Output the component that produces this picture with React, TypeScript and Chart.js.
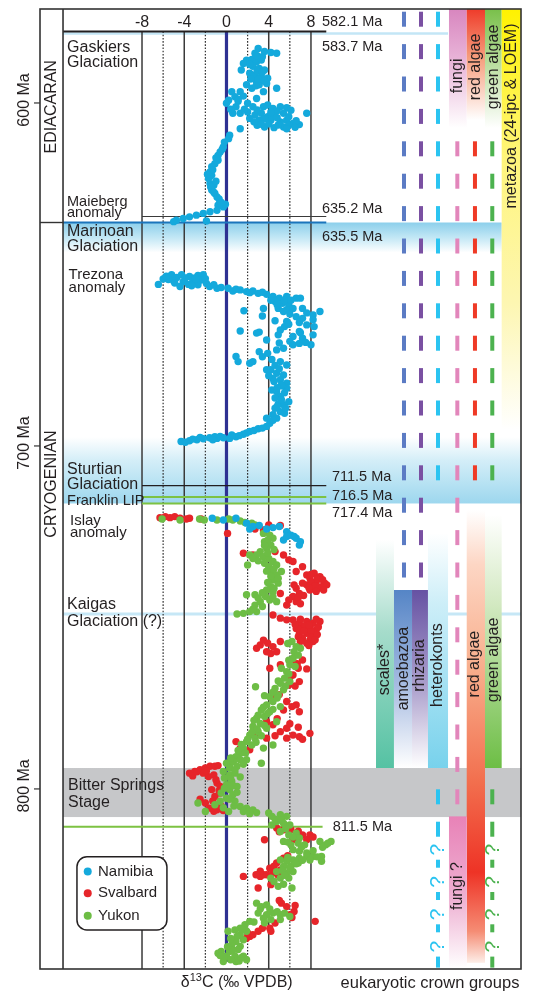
import React, { useEffect, useRef } from 'react';
import { Chart, registerables } from 'chart.js';

Chart.register(...registerables);

const FONT = '"Liberation Sans", Arial, Helvetica, sans-serif';
const INK = '#231f20';

// ---------------- data: [δ13C (‰ VPDB), age (Ma)] ----------------
const namibia: [number, number][] = [
  [3.0,584.1],[2.7,585.5],[3.6,585.0],[4.2,585.3],[4.75,585.5],[1.9,587.5],[2.4,587.3],[2.85,588.0],[3.3,587.5],[1.6,588.5],
  [2.5,589.3],[3.1,589.9],[3.6,590.4],[1.4,590.4],[2.2,591.3],[2.7,591.8],[3.3,592.3],[3.9,592.8],[2.85,593.8],[1.9,594.7],
  [2.4,595.7],[3.1,594.7],[3.8,594.3],[4.75,595.7],[3.5,596.7],[0.5,596.7],[1.3,596.7],[0.8,598.2],[0.2,599.2],[2.85,598.7],
  [2.0,600.1],[0.0,600.1],[0.9,601.1],[2.5,601.1],[3.5,601.1],[3.9,600.6],[4.4,601.6],[5.1,601.1],[5.7,601.4],[6.1,602.1],
  [0.6,603.0],[1.3,603.0],[2.0,602.6],[2.7,603.5],[3.3,603.0],[3.9,604.0],[4.5,603.5],[5.4,603.0],[7.6,603.0],[2.2,604.5],
  [3.1,605.0],[4.2,605.0],[5.1,605.5],[5.7,605.0],[6.3,606.0],[6.9,606.3],[2.9,606.5],[3.6,607.0],[4.5,607.2],[5.4,607.0],
  [5.9,606.5],[5.7,607.5],[1.3,607.5],[0.3,609.4],[0.2,610.4],[-0.2,611.4],[-0.3,612.8],[-0.6,614.3],[-0.8,615.3],[-0.8,616.7],
  [-1.1,617.7],[-1.4,618.6],[-1.56,620.1],[-1.4,621.1],[-1.7,622.0],[-1.56,623.5],[-1.2,624.0],[-1.4,625.4],[-1.1,626.4],[-0.9,627.4],
  [-0.6,628.8],[-0.8,629.8],[-0.3,630.3],[-0.1,629.5],[-0.9,631.3],[-1.56,631.7],[-2.2,632.2],[-2.85,632.7],[-3.5,633.2],[-4.1,633.7],
  [-4.75,634.2],[-5.0,634.6],[-1.9,634.4],[-0.4,613.5],[-1.0,616.0],[-1.3,619.5],[-1.6,621.5],[-1.5,624.5],[-1.2,626.0],[-0.7,628.0],
  [-1.8,620.8],[-1.0,622.8],[-0.5,629.0],
  [2.9,586.2],[3.4,586.5],[2.2,588.8],[2.9,590.6],[3.4,591.0],[2.5,592.5],[3.0,593.1],[2.3,593.0],[3.6,593.6],[2.8,595.0],
  [1.6,598.0],[1.1,599.5],[1.7,601.8],[2.9,602.0],[4.8,602.3],[4.2,602.7],[3.6,604.6],[4.8,604.3],[5.9,604.0],[6.6,605.2],
  [2.6,605.5],[3.3,606.2],[4.0,606.1],[4.9,606.4],[6.5,607.1],[1.1,599.0],[0.4,601.8],
  [-6.45,652.9],[-6.0,651.3],[-5.2,650.1],[-4.7,650.9],[-5.0,651.9],[-4.25,650.1],[-4.1,652.1],[-3.5,650.6],[-3.2,652.1],[-2.7,650.3],
  [-2.2,650.1],[-2.4,651.6],[-4.4,653.5],[-3.6,652.9],[-2.7,653.0],[-1.9,652.6],[-1.6,653.5],[-0.9,654.0],[-0.5,653.8],[0.15,654.0],
  [0.6,654.8],[1.3,654.5],[1.9,655.0],[2.5,654.8],[3.0,655.5],[3.8,655.8],[4.4,656.4],[5.0,656.9],[5.7,656.4],[4.6,657.9],
  [5.3,658.4],[5.9,658.9],[6.6,656.9],[7.0,656.9],[4.9,659.9],[5.7,660.3],[6.3,659.9],[7.2,659.9],[8.85,660.8],[6.6,662.3],
  [7.2,662.8],[8.2,661.8],[8.2,663.2],[5.7,663.7],[4.6,663.5],[8.3,665.2],[5.5,665.2],[7.6,664.7],[1.65,660.6],[3.5,659.9],
  [3.4,662.1],[5.1,666.2],[6.9,666.6],[8.2,667.6],[1.3,666.5],[2.85,667.1],[3.1,666.8],[3.8,669.1],[4.9,667.6],[6.3,668.1],
  [7.2,668.6],[6.3,670.5],[8.0,670.5],[6.9,670.1],[5.4,671.5],[4.75,672.0],[3.1,672.5],[3.9,673.0],[3.4,674.0],[0.9,673.9],
  [1.1,675.4],[2.2,675.9],[2.5,675.4],[5.1,675.4],[5.7,676.4],[3.8,677.8],[4.2,677.8],[4.75,678.8],[5.4,679.3],[4.4,680.3],
  [5.1,680.7],[5.7,681.7],[4.3,683.7],[5.7,683.2],[4.75,684.1],[5.1,685.6],[5.9,687.1],[5.4,688.0],[4.6,689.0],[5.1,690.0],
  [5.5,690.5],[4.4,690.9],[3.8,691.9],[4.75,691.9],[4.1,693.4],[3.8,694.3],[3.0,695.0],[2.2,695.8],[1.6,696.6],[0.9,697.3],
  [0.3,697.8],[-0.3,697.6],[-0.9,697.8],[-1.6,697.6],[-2.2,697.9],[-2.8,698.2],[-3.5,698.5],[-4.3,698.7],[-1.1,697.3],[0.5,696.8],
  [4.6,686.0],[5.3,682.5],[4.9,687.8],[-3.0,651.0],[-5.5,651.5],
  [-5.7,650.5],[-4.9,652.5],[-3.9,651.0],[-2.9,651.4],[-2.0,651.2],[-3.3,653.3],[-1.2,653.0],[0.9,654.3],[2.2,655.3],[3.4,655.2],
  [4.2,657.5],[4.8,658.8],[5.5,657.6],[6.1,657.5],[5.4,660.8],[6.0,661.5],[7.6,661.2],[6.9,664.0],[5.9,664.5],[7.0,667.0],
  [6.0,669.5],[7.5,669.8],[5.0,670.0],[4.3,674.8],[4.6,676.5],[5.0,677.5],[4.0,679.5],[4.5,681.2],[5.2,682.3],[4.8,683.0],
  [5.5,684.5],[5.2,686.5],[4.8,688.5],[5.6,689.0],[4.4,692.5],[3.4,694.8],[2.6,695.5],[1.9,696.2],[1.2,697.0],[-0.6,697.2],
  [-1.3,698.2],[-2.5,697.5],[-3.2,698.0],[-3.9,698.9],
  [-1.35,721.1],[-0.3,721.6],[0.9,721.1],[1.9,722.5],[2.5,723.5],[3.1,723.2],[3.8,724.2],[4.4,723.8],[5.0,723.5],[2.2,724.2],
  [5.7,725.0],[6.1,726.0],[6.6,726.9],[7.0,727.9],[6.9,728.9],[5.4,727.4],[5.7,726.4],[6.4,726.4],
];

const svalbard: [number, number][] = [
  [-6.3,720.9],[-5.8,720.6],[-5.35,720.9],[-4.9,720.6],[-4.4,721.1],[-3.8,721.3],[-3.5,721.1],[-2.4,721.3],[0.1,725.5],
  [2.7,724.2],[3.5,724.5],[4.0,723.0],[5.1,723.2],
  [1.6,731.3],[2.5,731.8],[5.4,731.8],[4.6,730.8],[5.9,733.2],[6.3,733.7],[7.2,735.2],[6.6,736.6],
  [7.6,737.6],[7.9,738.6],[8.3,737.1],[8.85,738.1],[9.3,740.0],[8.5,739.6],[8.2,741.0],[7.9,742.0],[7.6,740.5],[9.0,741.0],
  [8.7,741.5],[8.0,739.6],[7.2,740.0],[6.6,741.5],[6.9,743.0],[6.3,743.9],[5.9,744.9],[6.6,745.4],[5.7,746.4],[5.1,743.0],[6.4,740.5],
  [4.4,749.3],[5.1,750.2],[5.7,750.7],[6.3,750.7],
  [6.9,751.7],[7.6,751.2],[8.2,751.7],[8.85,751.2],[7.2,753.2],[7.9,753.2],[8.5,753.6],[6.9,754.6],[7.6,754.6],[8.2,755.1],
  [7.2,756.1],[7.9,756.6],[6.8,755.6],[7.6,757.5],[8.2,757.0],[6.6,753.2],[7.4,752.5],[8.0,754.0],
  [2.85,759.0],[3.2,758.0],[3.8,760.0],[3.5,756.6],[4.4,758.5],[5.1,757.0],[4.75,760.0],
  [4.1,764.8],[5.1,763.8],[6.3,762.9],[7.2,762.4],[6.8,764.8],[6.3,766.8],[6.9,768.7],[5.9,769.7],
  [4.4,773.6],[5.7,774.5],[6.6,775.5],[5.4,777.0],[6.9,777.5],
  [3.8,780.4],[4.4,781.3],[5.1,783.3],[5.7,782.3],[6.3,784.3],[6.9,784.8],[7.9,783.8],[5.7,785.2],
  [0.9,786.2],[1.3,788.1],[2.2,788.6],[3.8,785.2],[2.85,784.3],
  [-3.5,795.4],[-3.0,794.9],[-2.5,794.4],[-2.0,793.9],[-1.56,793.4],[-1.1,793.4],[-0.8,793.2],[-2.2,795.4],[-1.7,796.4],[-3.2,796.2],
  [-1.2,795.9],[-0.9,798.3],[-1.4,800.2],[-0.6,801.2],[-1.1,802.2],[-2.0,804.1],[-1.6,805.6],[-0.9,806.1],[-0.3,806.3],[-0.6,799.3],
  [3.6,814.8],[4.75,811.4],[5.4,811.9],[6.1,811.9],[7.2,813.4],[7.9,813.4],[7.6,814.8],[6.3,814.8],
  [5.4,820.2],[4.75,821.6],[4.1,823.1],[3.5,825.0],[3.8,825.0],[4.4,824.5],[5.1,823.6],[3.2,825.5],[1.6,825.5],[3.0,828.9],[4.2,827.9],
  [5.2,833.3],[5.7,834.3],[6.4,835.7],[6.0,836.7],[8.4,838.6],[4.6,839.1],[4.1,840.6],[4.2,841.5],[3.4,840.6],[2.2,843.0],
  [2.5,842.5],[1.9,843.5],
  [8.0,737.5],[8.6,738.8],[9.1,739.0],[9.5,740.5],[8.4,740.8],[7.8,741.3],[9.2,742.0],[8.5,742.4],[7.3,743.6],[6.8,744.2],
  [7.0,746.0],[7.0,750.5],[8.5,750.5],[7.8,752.2],[8.7,752.8],[6.9,753.8],[7.3,754.0],[8.0,755.8],[8.6,755.0],[7.0,757.0],
  [8.4,756.5],[7.8,758.2],[6.5,752.0],[3.9,757.5],[4.2,760.5],[6.7,763.5],[7.6,765.0],[6.0,767.5],[6.5,770.0],[5.0,772.5],
  [6.2,776.0],[4.8,779.5],[6.0,781.0],[6.8,782.0],[4.6,784.5],[7.2,785.5],[-2.8,795.0],[-1.9,794.8],[-1.0,797.3],[-0.7,800.5],
  [-1.3,803.5],[-0.5,805.0],[-1.2,806.5],[-2.5,803.0],[5.0,812.5],[6.8,812.3],[6.9,814.0],[8.2,814.0],[5.8,819.5],[4.5,822.5],
  [3.2,824.0],[2.8,825.0],[4.9,825.2],[5.0,832.5],[6.5,834.0],[6.2,837.5],[2.0,842.0],[3.0,841.5],
];

const yukon: [number, number][] = [
  [-6.1,721.3],[-4.4,721.6],[-2.55,721.3],[-2.1,721.6],[-0.9,721.6],[0.2,721.3],[0.6,721.6],[1.3,721.9],[1.75,722.3],[2.4,722.5],[2.7,723.0],
  [3.5,725.5],[4.1,726.0],[4.4,726.9],[3.6,727.9],[4.2,728.9],[3.8,729.8],[3.2,730.8],[3.5,732.3],[4.0,732.8],[2.85,731.8],
  [2.2,731.8],[2.5,732.8],[4.4,733.7],[4.0,735.2],[4.75,734.7],[4.2,736.6],[4.75,737.6],[5.2,736.6],[4.4,739.1],[4.9,740.0],
  [4.2,741.0],[3.8,742.0],[4.4,742.5],[3.7,743.9],[4.1,744.9],[4.75,745.4],[3.2,745.4],[2.7,746.4],[3.4,746.8],[1.9,743.4],
  [2.7,743.4],[1.6,748.8],[2.2,748.3],[2.85,748.3],[2.0,734.7],
  [6.2,757.0],[6.6,758.5],[7.0,759.0],[6.3,761.9],[6.0,763.8],[6.5,764.3],[5.7,765.8],[5.5,767.7],[6.0,768.7],[5.1,769.2],
  [4.6,770.7],[5.4,771.1],[4.9,772.6],[4.1,773.1],[2.75,770.2],[4.4,774.5],[3.8,775.5],[5.1,776.0],[3.3,777.0],[4.1,777.5],
  [3.6,778.9],[2.85,779.4],[3.2,780.9],[2.5,781.8],[3.0,783.3],[2.2,784.3],[2.7,785.2],[1.9,786.2],[2.4,787.2],[1.6,788.1],
  [1.3,789.6],[0.9,790.6],[0.6,792.0],[0.3,793.5],[4.4,787.2],[3.5,788.1],[3.8,782.3],[4.75,780.4],
  [0.0,792.5],[0.65,792.0],[1.3,791.5],[1.9,791.5],[3.3,792.5],[0.3,793.9],[1.0,793.4],[-0.3,794.9],[0.3,795.9],[0.8,795.4],
  [-0.2,796.8],[0.5,797.8],[0.0,798.8],[1.0,799.3],[0.3,800.2],[-0.5,801.2],[0.6,801.7],[0.0,802.7],[0.8,803.6],[-0.6,803.6],
  [-1.1,804.6],[-2.7,804.1],[-2.0,806.6],[0.2,806.6],[1.3,805.1],[1.9,805.6],[2.5,806.1],[2.85,806.9],[1.6,806.6],
  [4.0,807.0],[4.3,808.0],[5.1,807.5],[5.7,808.0],[4.75,809.5],[5.4,810.0],[6.0,810.5],[4.3,810.5],
  [5.1,812.4],[5.9,813.4],[6.6,812.9],[6.9,814.3],[5.4,815.3],[6.1,816.3],[6.8,815.8],[7.4,816.3],[6.3,817.7],[6.9,818.2],
  [7.6,818.7],[8.85,815.3],[9.4,816.3],[9.9,815.3],[9.1,817.0],
  [5.1,820.7],[5.7,821.1],[6.3,820.7],[6.9,820.2],[7.6,819.7],[8.2,819.7],[9.0,819.7],[5.4,822.6],[6.1,822.6],[6.8,821.6],
  [7.9,820.7],[9.0,821.1],[4.75,824.1],[5.7,824.5],[6.3,824.1],[5.1,826.0],[5.9,826.0],[4.9,828.4],[6.2,828.9],[4.2,826.0],
  [2.85,833.3],[3.3,834.3],[3.8,833.8],[3.0,836.2],[3.8,836.7],[4.4,836.2],[5.1,836.7],[5.5,836.2],[6.0,837.2],[4.2,838.1],
  [5.1,838.1],[3.5,837.7],
  [2.2,838.6],[1.75,839.6],[1.3,840.6],[1.9,841.5],[0.8,841.1],[1.3,842.5],[1.6,844.0],[0.9,844.5],[0.15,841.5],[0.5,845.4],
  [1.3,845.9],[0.3,847.4],[-0.5,847.4],[0.0,848.8],[0.8,848.8],[1.6,848.8],[1.9,849.8],[-0.3,850.3],[0.9,850.3],[-0.8,847.9],
  [3.9,727.5],[3.6,729.0],[4.5,730.2],[3.9,731.2],[3.0,733.5],[3.6,734.2],[4.5,735.8],[3.8,736.5],[4.2,738.0],[4.9,738.6],
  [3.9,739.8],[4.5,741.5],[3.4,742.8],[3.0,744.3],[4.4,744.0],[2.5,747.6],[1.0,749.0],[5.8,757.6],[6.4,760.0],[6.8,761.0],
  [5.9,762.5],[5.2,764.8],[5.9,766.5],[4.9,768.5],[5.6,770.0],[4.4,771.8],[3.6,772.8],[4.8,773.5],[3.5,776.2],[4.4,776.8],
  [3.9,778.0],[3.0,778.5],[2.6,780.0],[3.6,781.5],[2.9,782.5],[2.4,783.5],[3.3,784.5],[2.0,785.5],[1.4,787.0],[2.8,786.4],
  [1.1,788.8],[1.8,789.5],[0.4,791.0],[1.6,792.8],[0.8,794.5],[0.4,797.0],[1.3,796.5],[-0.2,799.8],[0.6,799.0],[1.0,801.0],
  [0.3,803.0],[-0.3,805.5],[0.7,805.0],[2.2,807.2],[4.6,808.8],[5.2,809.0],[5.6,811.6],[6.3,814.0],[5.8,815.5],[7.1,817.0],
  [8.2,818.0],[9.6,815.8],[5.8,820.0],[6.6,821.8],[7.2,820.8],[8.6,819.8],[5.3,823.8],[6.0,823.0],[5.5,825.2],[4.5,827.0],
  [5.4,827.8],[3.2,835.0],[4.1,835.0],[4.8,835.8],[3.6,839.0],[2.6,838.8],[1.5,841.0],[1.0,843.0],[0.4,843.6],[1.1,846.8],
  [0.6,847.0],[-0.2,849.0],[0.4,849.8],[1.2,850.2],[1.4,849.2],[-0.6,848.6],[0.1,846.0],
];

const seriesNames = ['Namibia', 'Svalbard', 'Yukon'];
const seriesColors = ['#14a9dc', '#e6252a', '#6dbd45'];

const xTicks = [-8, -4, 0, 4, 8];
const dottedX = [-6, -2, 2, 6];
const ageTicks = [600, 700, 800];

// ---------------- frame ----------------
const X_MIN = -17.66, X_MAX = 27.89;
const AGE_TOP = 572.6, AGE_BOTTOM = 852.5;
const PANEL_LEFT = -15.48, PANEL_RIGHT = 9.45;
const HEADER_AGE = 579.16;

const periods = [
  { name: 'EDIACARAN', at: 601.1 },
  { name: 'CRYOGENIAN', at: 711.1 },
];
const periodBoundary = 634.85;

const eventLines = [
  { age: 579.16, from: PANEL_LEFT, to: PANEL_RIGHT, color: INK, width: 1.8 },
  { age: 633.1, from: -8, to: PANEL_RIGHT, color: '#3a3a3a', width: 1.2 },
  { age: 634.85, from: PANEL_LEFT, to: PANEL_RIGHT, color: '#1b75bc', width: 2.2 },
  { age: 711.58, from: -8, to: PANEL_RIGHT, color: INK, width: 1.3 },
  { age: 714.87, from: -8, to: PANEL_RIGHT, color: '#7dc242', width: 2 },
  { age: 716.77, from: -8, to: PANEL_RIGHT, color: '#7dc242', width: 2 },
  { age: 811.0, from: PANEL_LEFT, to: 9.1, color: '#7dc242', width: 2 },
];

const ageLabels: [string, number, number][] = [
  ['582.1 Ma', 576.4, 9.04],
  ['583.7 Ma', 583.6, 9.04],
  ['635.2 Ma', 630.9, 9.04],
  ['635.5 Ma', 639.1, 9.04],
  ['711.5 Ma', 709.0, 9.99],
  ['716.5 Ma', 714.6, 9.99],
  ['717.4 Ma', 719.5, 9.99],
  ['811.5 Ma', 811.0, 10.06],
];

const eventLabels = [
  { lines: ['Gaskiers', 'Glaciation'], at: 583.8, x: -15.1, size: 16, lead: 15.5 },
  { lines: ['Maieberg', 'anomaly'], at: 628.8, x: -15.1, size: 14.5, lead: 11.5 },
  { lines: ['Marinoan', 'Glaciation'], at: 637.6, x: -15.1, size: 16, lead: 14.7 },
  { lines: ['Trezona', 'anomaly'], at: 650.15, x: -14.95, size: 15, lead: 13 },
  { lines: ['Sturtian', 'Glaciation'], at: 707.0, x: -15.1, size: 16, lead: 15 },
  { lines: ['Franklin LIP'], at: 716.0, x: -15.1, size: 14.5, lead: 0 },
  { lines: ['Islay', 'anomaly'], at: 721.8, x: -14.82, size: 15, lead: 12.5 },
  { lines: ['Kaigas', 'Glaciation (?)'], at: 746.3, x: -15.1, size: 16, lead: 16.7 },
  { lines: ['Bitter Springs', 'Stage'], at: 799.1, x: -15.0, size: 16, lead: 16.7 },
];

type Stops = [number, string][];
const bands = [
  { from: 634.85, to: 643.6, x0: PANEL_LEFT, x1: 26.06, stops: [[0, '#8ccfeb'], [0.5, '#c2e7f5'], [1, '#ffffff']] as Stops },
  { from: 697.4, to: 716.77, x0: PANEL_LEFT, x1: X_MAX, stops: [[0, '#ffffff'], [0.35, '#d4eef8'], [1, '#9dd7ee']] as Stops },
  { from: 793.9, to: 808.2, x0: PANEL_LEFT, x1: X_MAX, stops: [[0, '#c6c7c9'], [1, '#c6c7c9']] as Stops },
];
const thinBands = [
  { age: 579.75, x0: PANEL_LEFT, x1: 20.98, color: '#c3e6f6', width: 2.5 },
  { age: 749.0, x0: PANEL_LEFT, x1: X_MAX, color: '#c6e7f6', width: 3 },
];

const crownBars = [
  { x0: 21.07, x1: 22.75, from: AGE_TOP, to: 607.3, stops: [[0, '#d886bf'], [0.5, '#ebbcdc'], [1, '#ffffff']] as Stops },
  { x0: 22.75, x1: 24.48, from: AGE_TOP, to: 605.0, stops: [[0, '#ef3b2a'], [0.45, '#f6a07f'], [1, '#ffffff']] as Stops },
  { x0: 24.48, x1: 26.06, from: AGE_TOP, to: 607.3, stops: [[0, '#79c04a'], [0.5, '#bfe0a6'], [1, '#ffffff']] as Stops },
  { x0: 26.06, x1: X_MAX, from: AGE_TOP, to: 695.3, stops: [[0, '#fff200'], [0.35, '#fff57a'], [0.7, '#fdf6b2'], [1, '#ffffff']] as Stops },
  { x0: 14.16, x1: 15.86, from: 727.4, to: 793.9, stops: [[0, '#ffffff'], [0.4, '#a6dccb'], [1, '#55c2a3']] as Stops },
  { x0: 15.86, x1: 17.57, from: 742.0, to: 793.9, stops: [[0, '#5585c6'], [0.55, '#a9bde2'], [1, '#ffffff']] as Stops },
  { x0: 17.57, x1: 19.08, from: 742.0, to: 793.9, stops: [[0, '#6652a3'], [0.55, '#ada1cd'], [1, '#ffffff']] as Stops },
  { x0: 19.08, x1: 20.98, from: 725.4, to: 793.9, stops: [[0, '#ffffff'], [0.3, '#cdeef8'], [1, '#78d2ec']] as Stops },
  { x0: 22.75, x1: 24.48, from: 718.7, to: 850.7, stops: [[0, '#ffffff'], [0.12, '#fdd6c4'], [0.35, '#f8ae8c'], [0.6, '#f26f4e'], [0.8, '#ee3326'], [0.93, '#f58c74'], [1, '#fdeee8']] as Stops },
  { x0: 24.48, x1: 26.06, from: 720.1, to: 793.9, stops: [[0, '#ffffff'], [0.35, '#d3e9c2'], [1, '#6dbe45']] as Stops },
  { x0: 21.07, x1: 22.75, from: 808.0, to: 852.2, stops: [[0, '#e882b7'], [0.55, '#eeb2d3'], [1, '#ffffff']] as Stops },
];

const crownTexts: [string, number, number][] = [
  ['fungi', 21.88, 592.1],
  ['red algae', 23.58, 589.5],
  ['green algae', 25.27, 589.5],
  ['metazoa (24-ipc & LOEM)', 26.97, 603.8],
  ['scales*', 15.0, 765.2],
  ['amoebazoa', 16.74, 764.9],
  ['rhizaria', 18.32, 764.0],
  ['heterokonts', 19.98, 763.9],
  ['red algae', 23.53, 763.6],
  ['green algae', 25.33, 762.4],
  ['fungi ?', 21.9, 828.3],
];

const DASH_START = 573.39;
const dashCols = [
  { color: '#5b7bc4', x: 16.81, ranges: [[0, 17]], q: false },
  { color: '#7a50a2', x: 18.42, ranges: [[0, 17]], q: false },
  { color: '#2bc4f1', x: 20.03, ranges: [[0, 14], [24, 25]], q: true },
  { color: '#e286bb', x: 21.86, ranges: [[4, 24]], q: false },
  { color: '#ef3a26', x: 23.53, ranges: [[4, 14]], q: false },
  { color: '#4cb24f', x: 25.17, ranges: [[4, 14], [24, 25]], q: true },
];

const legendBox = { x0: -14.16, x1: -5.64, a0: 819.8, a1: 841.1, items: [824.1, 830.4, 837.0], dot: -13.14, text: -12.17 };

function font(size: number) {
  return `${size}px ${FONT}`;
}

function vText(ctx: CanvasRenderingContext2D, s: string, x: number, y: number, size: number, color = INK) {
  ctx.save();
  ctx.translate(x, y);
  ctx.rotate(-Math.PI / 2);
  ctx.font = font(size);
  ctx.fillStyle = color;
  ctx.textAlign = 'center';
  ctx.textBaseline = 'middle';
  ctx.fillText(s, 0, 0);
  ctx.restore();
}

const backdrop = {
  id: 'backdrop',
  beforeDatasetsDraw(chart: any) {
    const ctx: CanvasRenderingContext2D = chart.ctx;
    const X = (v: number) => chart.scales.x.getPixelForValue(v);
    const Y = (v: number) => chart.scales.y.getPixelForValue(v);
    const area = chart.chartArea;
    ctx.save();

    const grad = (a0: number, a1: number, stops: Stops) => {
      const g = ctx.createLinearGradient(0, Y(a0), 0, Y(a1));
      stops.forEach(([o, c]) => g.addColorStop(o, c));
      return g;
    };

    bands.forEach((b) => {
      ctx.fillStyle = grad(b.from, b.to, b.stops);
      ctx.fillRect(X(b.x0), Y(b.from), X(b.x1) - X(b.x0), Y(b.to) - Y(b.from));
    });
    thinBands.forEach((b) => {
      ctx.strokeStyle = b.color;
      ctx.lineWidth = b.width;
      ctx.beginPath();
      ctx.moveTo(X(b.x0), Y(b.age));
      ctx.lineTo(X(b.x1), Y(b.age));
      ctx.stroke();
    });

    crownBars.forEach((b) => {
      ctx.fillStyle = grad(b.from, b.to, b.stops);
      ctx.fillRect(X(b.x0), Y(b.from), X(b.x1) - X(b.x0), Y(b.to) - Y(b.from));
    });

    // dashed crown-group ranges
    const period = 32.4, len = 15;
    const y0 = Y(DASH_START);
    dashCols.forEach((c) => {
      ctx.fillStyle = c.color;
      c.ranges.forEach(([k0, k1]) => {
        for (let k = k0; k <= k1; k++) {
          const top = y0 + k * period;
          ctx.fillRect(X(c.x) - 2, top, 4, len);
        }
      });
      if (c.q) {
        const firstQ = y0 + 25 * period + 28;
        for (let j = 0; j < 4; j++) {
          const cy = firstQ + j * 32.3;
          vText(ctx, '?', X(c.x) + 0.5, cy, 21, c.color);
          const end = j === 3 ? Math.min(cy + 21, area.bottom - 1) : cy + 18;
          ctx.fillRect(X(c.x) - 2, cy + 10, 4, end - (cy + 10));
        }
      }
    });

    // vertical grid
    const gTop = Y(HEADER_AGE);
    xTicks.forEach((t) => {
      if (t === 0) return;
      ctx.strokeStyle = '#3a3a3a';
      ctx.lineWidth = 1.5;
      ctx.beginPath();
      ctx.moveTo(X(t), gTop);
      ctx.lineTo(X(t), area.bottom);
      ctx.stroke();
    });
    ctx.setLineDash([1.6, 1.6]);
    dottedX.forEach((t) => {
      ctx.strokeStyle = '#333';
      ctx.lineWidth = 1.2;
      ctx.beginPath();
      ctx.moveTo(X(t), gTop);
      ctx.lineTo(X(t), area.bottom);
      ctx.stroke();
    });
    ctx.setLineDash([]);
    ctx.strokeStyle = '#2e3192';
    ctx.lineWidth = 3.2;
    ctx.beginPath();
    ctx.moveTo(X(0), gTop);
    ctx.lineTo(X(0), Y(850.4));
    ctx.stroke();

    eventLines.forEach((l) => {
      ctx.strokeStyle = l.color;
      ctx.lineWidth = l.width;
      ctx.beginPath();
      ctx.moveTo(X(l.from), Y(l.age));
      ctx.lineTo(X(l.to), Y(l.age));
      ctx.stroke();
    });

    // texts
    ctx.fillStyle = INK;
    ctx.textBaseline = 'middle';
    ctx.textAlign = 'center';
    ctx.font = font(16);
    xTicks.forEach((t) => ctx.fillText(String(t), X(t), Y(576.6)));

    ctx.textAlign = 'left';
    ctx.font = font(14.5);
    ageLabels.forEach(([s, a, x]) => ctx.fillText(s, X(x), Y(a)));

    eventLabels.forEach((e) => {
      ctx.font = font(e.size);
      e.lines.forEach((s, i) => ctx.fillText(s, X(e.x), Y(e.at) + i * e.lead));
    });

    crownTexts.forEach(([s, x, a]) => vText(ctx, s, X(x), Y(a), 16));

    ctx.restore();
  },
};

const overlay = {
  id: 'overlay',
  afterDatasetsDraw(chart: any) {
    const ctx: CanvasRenderingContext2D = chart.ctx;
    const X = (v: number) => chart.scales.x.getPixelForValue(v);
    const Y = (v: number) => chart.scales.y.getPixelForValue(v);
    const area = chart.chartArea;
    ctx.save();

    // frame
    ctx.strokeStyle = '#333';
    ctx.lineWidth = 1.6;
    ctx.strokeRect(area.left, area.top, area.right - area.left, area.bottom - area.top);
    ctx.beginPath();
    ctx.moveTo(X(PANEL_LEFT), area.top);
    ctx.lineTo(X(PANEL_LEFT), area.bottom);
    ctx.stroke();
    ctx.lineWidth = 1.4;
    ctx.beginPath();
    ctx.moveTo(area.left, Y(periodBoundary));
    ctx.lineTo(X(PANEL_LEFT), Y(periodBoundary));
    ctx.stroke();

    periods.forEach((p) => vText(ctx, p.name, (area.left + X(PANEL_LEFT)) / 2 + 0.5, Y(p.at), 16));

    // age axis
    ageTicks.forEach((t) => {
      ctx.strokeStyle = '#333';
      ctx.lineWidth = 1.2;
      ctx.beginPath();
      ctx.moveTo(area.left - 6, Y(t));
      ctx.lineTo(area.left, Y(t));
      ctx.stroke();
      vText(ctx, `${t} Ma`, area.left - 15, Y(t) - 3, 16);
    });

    // legend
    const lb = legendBox;
    ctx.beginPath();
    ctx.roundRect(X(lb.x0), Y(lb.a0), X(lb.x1) - X(lb.x0), Y(lb.a1) - Y(lb.a0), 10);
    ctx.fillStyle = '#ffffff';
    ctx.fill();
    ctx.strokeStyle = INK;
    ctx.lineWidth = 1.5;
    ctx.stroke();
    chart.data.datasets.forEach((ds: any, i: number) => {
      ctx.fillStyle = ds.backgroundColor;
      ctx.beginPath();
      ctx.arc(X(lb.dot), Y(lb.items[i]), 4, 0, Math.PI * 2);
      ctx.fill();
      ctx.fillStyle = INK;
      ctx.font = font(15);
      ctx.textAlign = 'left';
      ctx.textBaseline = 'middle';
      ctx.fillText(ds.label, X(lb.text), Y(lb.items[i]));
    });

    // bottom titles
    const ty = area.bottom + 14;
    ctx.fillStyle = INK;
    ctx.textBaseline = 'middle';
    ctx.textAlign = 'left';
    const p1 = 'δ', p2 = '13', p3 = 'C (‰ VPDB)';
    ctx.font = font(16);
    const w1 = ctx.measureText(p1).width, w3 = ctx.measureText(p3).width;
    ctx.font = font(11);
    const w2 = ctx.measureText(p2).width;
    let sx = X(0.97) - (w1 + w2 + w3) / 2;
    ctx.font = font(16);
    ctx.fillText(p1, sx, ty);
    sx += w1;
    ctx.font = font(11);
    ctx.fillText(p2, sx, ty - 5);
    sx += w2;
    ctx.font = font(16);
    ctx.fillText(p3, sx, ty);
    ctx.textAlign = 'center';
    ctx.font = font(16.5);
    ctx.fillText('eukaryotic crown groups', X(19.27), ty);

    ctx.restore();
  },
};

export default function App() {
  const ref = useRef<HTMLCanvasElement>(null);
  useEffect(() => {
    const canvas = ref.current;
    if (!canvas) return;
    const sets = [namibia, svalbard, yukon];
    const orders = [0, 2, 1];
    const chart = new Chart(canvas, {
      type: 'scatter',
      data: {
        datasets: sets.map((s, i) => ({
          label: seriesNames[i],
          data: s.map(([d, a]) => ({ x: d, y: a })),
          backgroundColor: seriesColors[i],
          borderWidth: 0,
          pointRadius: 3.7,
          pointHoverRadius: 3.7,
          order: orders[i],
        })),
      },
      options: {
        responsive: false,
        animation: false,
        devicePixelRatio: 1,
        events: [],
        layout: { padding: { left: 40, top: 9, right: 20, bottom: 23 } },
        scales: {
          x: { type: 'linear', min: X_MIN, max: X_MAX, display: false },
          y: { type: 'linear', reverse: true, min: AGE_TOP, max: AGE_BOTTOM, display: false },
        },
        plugins: { legend: { display: false }, tooltip: { enabled: false } },
      },
      plugins: [backdrop, overlay],
    } as any);
    return () => chart.destroy();
  }, []);
  return (
    <div style={{ position: 'fixed', left: 0, top: 0, width: 541, height: 992, background: '#fff' }}>
      <canvas ref={ref} width={541} height={992} style={{ display: 'block', width: 541, height: 992 }} />
    </div>
  );
}
